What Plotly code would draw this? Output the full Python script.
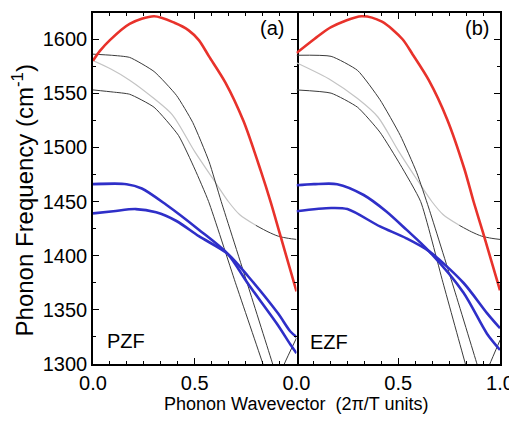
import plotly.graph_objects as go

# ---------------- data ----------------
# Panel (a) PZF
red_a_x = [0, 0.034, 0.083, 0.18, 0.30, 0.40, 0.47, 0.52, 0.57, 0.65, 0.74, 0.825, 0.874, 0.917, 1.0]
red_a_y = [1580, 1589, 1599, 1614, 1621, 1615, 1608, 1599, 1584, 1560, 1524, 1478, 1449, 1421, 1367]

blu1_a_x = [0, 0.165, 0.24, 0.36, 0.52, 0.66, 0.762, 0.908, 0.97, 1.0]
blu1_a_y = [1466, 1466, 1462, 1447, 1424, 1402, 1374, 1336, 1318, 1310]
blu2_a_x = [0, 0.1, 0.21, 0.31, 0.41, 0.52, 0.66, 0.762, 0.908, 0.97, 1.0]
blu2_a_y = [1439, 1441, 1443, 1440, 1432, 1418, 1402, 1381, 1347, 1330, 1325]

blk1_a_x = [0, 0.09, 0.18, 0.30, 0.41, 0.49, 0.57, 0.63, 0.762, 0.883, 0.90]
blk1_a_y = [1586, 1585, 1583, 1570, 1548, 1523, 1487, 1450, 1372, 1300, 1290]
blk2_a_x = [0, 0.10, 0.18, 0.30, 0.42, 0.50, 0.568, 0.70, 0.835, 0.85]
blk2_a_y = [1553, 1551, 1549, 1537, 1511, 1480, 1450, 1375, 1300, 1291]
blk3_a_x = [0.92, 0.94, 1.0]
blk3_a_y = [1290, 1300, 1324]

gry_a_x = [0, 0.09, 0.18, 0.30, 0.39, 0.50, 0.60, 0.665, 0.72, 0.80]
gry_a_y = [1580, 1572, 1562, 1545, 1530, 1496, 1468, 1450, 1438, 1428]
gryd_a_x = [0.80, 0.86, 0.91, 0.96, 1.0]
gryd_a_y = [1428, 1422, 1418, 1416, 1415]

# Panel (b) EZF
red_b_x = [0, 0.088, 0.17, 0.32, 0.42, 0.52, 0.57, 0.65, 0.74, 0.825, 0.87, 0.917, 1.0]
red_b_y = [1587, 1600, 1611, 1621, 1616, 1600, 1586, 1562, 1526, 1480, 1450, 1421, 1368]

blu1_b_x = [0, 0.085, 0.2, 0.33, 0.44, 0.54, 0.652, 0.82, 0.936, 1.0]
blu1_b_y = [1465, 1466, 1466, 1456, 1441, 1424, 1404, 1366, 1328, 1313]
blu2_b_x = [0, 0.17, 0.25, 0.41, 0.54, 0.652, 0.82, 0.936, 1.0]
blu2_b_y = [1441, 1444, 1443, 1427, 1416, 1404, 1375, 1347, 1333]

blk1_b_x = [0, 0.17, 0.30, 0.41, 0.51, 0.59, 0.65, 0.77, 0.887, 0.90]
blk1_b_y = [1585, 1584, 1571, 1544, 1511, 1477, 1444, 1372, 1300, 1292]
blk2_b_x = [0, 0.17, 0.30, 0.41, 0.51, 0.61, 0.72, 0.83, 0.845]
blk2_b_y = [1553, 1550, 1537, 1514, 1484, 1450, 1375, 1300, 1290]
blk3_b_x = [0.93, 0.95, 1.0]
blk3_b_y = [1290, 1300, 1322]

gry_b_x = [0, 0.17, 0.30, 0.40, 0.50, 0.60, 0.665, 0.72, 0.80]
gry_b_y = [1578, 1562, 1545, 1528, 1497, 1468, 1450, 1438, 1428]
gryd_b_x = [0.80, 0.86, 0.91, 0.96, 1.0]
gryd_b_y = [1428, 1422, 1418, 1416, 1415]

x_tickvals = [0, 0.5, 1.0]
x_ticktext_a = ["0.0", "0.5", ""]
x_ticktext_b = ["0.0", "0.5", "1.0"]
y_tickvals = [1300, 1350, 1400, 1450, 1500, 1550, 1600]

RED = "#e8322b"
BLUE = "#2f2fc8"
DARK = "#3a3a3a"
GRAY = "#c4c4c4"

fig = go.Figure()


def add(xs, ys, color, width, xa, ya, smooth=0.8):
    fig.add_trace(go.Scatter(x=xs, y=ys, mode="lines", xaxis=xa, yaxis=ya,
                             line=dict(color=color, width=width, shape="spline", smoothing=smooth),
                             showlegend=False, hoverinfo="skip"))


for (xa, ya, gx, gy, gdx, gdy, b1x, b1y, b2x, b2y, b3x, b3y, u1x, u1y, u2x, u2y, rx, ry) in [
    ("x", "y", gry_a_x, gry_a_y, gryd_a_x, gryd_a_y, blk1_a_x, blk1_a_y, blk2_a_x, blk2_a_y,
     blk3_a_x, blk3_a_y, blu1_a_x, blu1_a_y, blu2_a_x, blu2_a_y, red_a_x, red_a_y),
    ("x2", "y2", gry_b_x, gry_b_y, gryd_b_x, gryd_b_y, blk1_b_x, blk1_b_y, blk2_b_x, blk2_b_y,
     blk3_b_x, blk3_b_y, blu1_b_x, blu1_b_y, blu2_b_x, blu2_b_y, red_b_x, red_b_y),
]:
    add(gx, gy, GRAY, 1.2, xa, ya)
    add(gdx, gdy, DARK, 1.0, xa, ya)
    add(b1x, b1y, DARK, 1.0, xa, ya, 0.5)
    add(b2x, b2y, DARK, 1.0, xa, ya, 0.5)
    add(b3x, b3y, DARK, 1.0, xa, ya, 0.5)
    add(u1x, u1y, BLUE, 2.6, xa, ya)
    add(u2x, u2y, BLUE, 2.6, xa, ya)
    add(rx, ry, RED, 2.6, xa, ya)

FONT = "Liberation Sans, Arial, sans-serif"
minor_x = [i / 12 for i in range(13)]

LW = 1.5
W, H = 509, 414
L, R, T, B = 85, 14, 3, 58
PW, PH = W - L - R, H - T - B

common_x = dict(range=[0, 1], tickmode="array", tickvals=x_tickvals, ticks="inside", ticklen=6,
                tickwidth=1.3, tickcolor="black", showline=True, linecolor="black", linewidth=LW,
                mirror="ticks", showgrid=False, zeroline=False,
                tickfont=dict(family=FONT, size=20, color="black"),
                minor=dict(tickvals=minor_x, ticks="inside", ticklen=3, tickcolor="black", tickwidth=1.2))
common_y = dict(range=[1300, 1624], tickmode="array", tickvals=y_tickvals, ticks="inside", ticklen=6,
                tickwidth=1.3, tickcolor="black", linecolor="black", linewidth=LW,
                showgrid=False, zeroline=False,
                tickfont=dict(family=FONT, size=20, color="black"),
                minor=dict(dtick=25, tick0=1300, ticks="inside", ticklen=3, tickcolor="black", tickwidth=1.2))

fig.update_layout(
    width=W, height=H,
    margin=dict(l=L, r=R, t=T, b=B),
    paper_bgcolor="white", plot_bgcolor="white",
    font=dict(family=FONT, color="black"),
    xaxis=dict(domain=[0, 0.5], anchor="y", ticktext=x_ticktext_a, **common_x),
    xaxis2=dict(domain=[0.5, 1], anchor="y2", ticktext=x_ticktext_b, **common_x),
    # left panel: line at left edge and mirrored line (with ticks) at the middle
    yaxis=dict(domain=[0, 1], anchor="x", showline=True, mirror="ticks", **common_y),
    # right panel: line + ticks on the right edge
    yaxis2=dict(domain=[0, 1], anchor="x2", side="right", showline=True, mirror=False,
                showticklabels=False, **common_y),
    # ticks only (no second line) on the middle divider, pointing into the right panel
    yaxis3=dict(domain=[0, 1], anchor="x2", overlaying="y2", side="left", showline=False,
                showticklabels=False, **common_y),
)

ann = [
    dict(text="(a)", x=0.88, y=1610, xref="x", yref="y", showarrow=False,
         font=dict(family=FONT, size=20, color="black")),
    dict(text="(b)", x=0.887, y=1610, xref="x2", yref="y2", showarrow=False,
         font=dict(family=FONT, size=20, color="black")),
    dict(text="PZF", x=0.16, y=1321, xref="x", yref="y", showarrow=False,
         font=dict(family=FONT, size=20, color="black")),
    dict(text="EZF", x=0.16, y=1320, xref="x2", yref="y2", showarrow=False,
         font=dict(family=FONT, size=20, color="black")),
    dict(text="Phonon Frequency (cm<sup>-1</sup>)", x=(14 - L) / PW, y=(356 - 192) / PH,
         xref="paper", yref="paper", textangle=-90, showarrow=False,
         xanchor="center", yanchor="middle", font=dict(family=FONT, size=24, color="black")),
    dict(text="Phonon Wavevector  (2\u03c0/T units)", x=0.5, y=(356 - 396) / PH,
         xref="paper", yref="paper", showarrow=False, xanchor="center", yanchor="middle",
         font=dict(family=FONT, size=18, color="black")),
]
fig.update_layout(annotations=ann)

fig.write_html("out.html")
